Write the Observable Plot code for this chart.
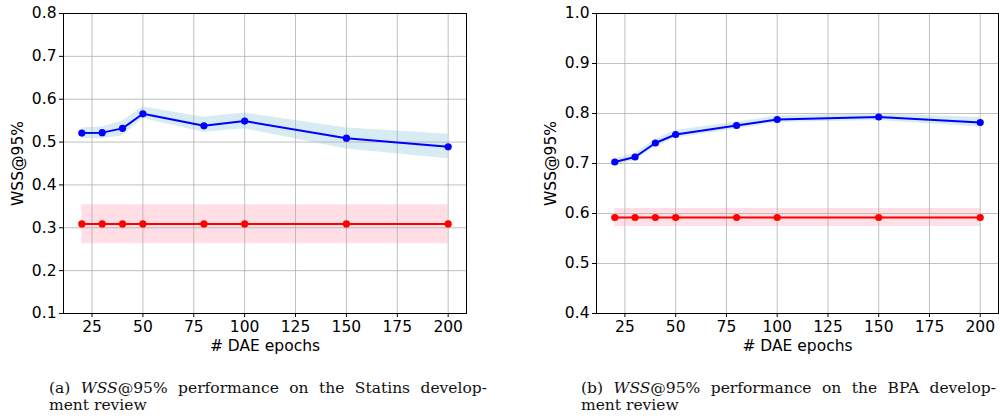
<!DOCTYPE html>
<html>
<head>
<meta charset="utf-8">
<script src="https://cdn.jsdelivr.net/npm/d3@7"></script>
<script src="https://cdn.jsdelivr.net/npm/@observablehq/plot@0.6"></script>
<style>
  html, body { margin: 0; padding: 0; background: #fff; }
  #page { position: relative; width: 1000px; height: 419px; overflow: hidden; }
  .panel { position: absolute; top: 0; }
  .cap { position: absolute; font-family: "DejaVu Serif", "Liberation Serif", serif; font-size: 15.5px; color: #111; line-height: 17px; }
  .cap .l1 { text-align: justify; text-align-last: justify; white-space: nowrap; }
  .cap i { font-style: italic; }
</style>
</head>
<body>
<div id="page">
  <div id="left" class="panel" style="left:0px"></div>
  <div id="right" class="panel" style="left:500px"></div>
  <div class="cap" style="left:49px; top:380px; width:438px;">
    <div class="l1">(a) <i>WSS</i>@95% performance on the Statins develop-</div>
    <div>ment review</div>
  </div>
  <div class="cap" style="left:581px; top:380px; width:415px;">
    <div class="l1">(b) <i>WSS</i>@95% performance on the BPA develop-</div>
    <div>ment review</div>
  </div>
</div>
<script>
// ---- data ----
const epochs = [20, 30, 40, 50, 80, 100, 150, 200];
const xTicks = [25, 50, 75, 100, 125, 150, 175, 200];

// (a) Statins
const statinsDae   = [0.521, 0.522, 0.532, 0.566, 0.538, 0.549, 0.509, 0.489];
const statinsDaeLo = [0.508, 0.508, 0.515, 0.555, 0.523, 0.531, 0.484, 0.461];
const statinsDaeHi = [0.533, 0.535, 0.549, 0.582, 0.558, 0.568, 0.533, 0.518];
const statinsBase   = [0.309, 0.309, 0.309, 0.309, 0.309, 0.309, 0.309, 0.309];
const statinsBaseLo = [0.263, 0.263, 0.263, 0.263, 0.263, 0.263, 0.263, 0.263];
const statinsBaseHi = [0.354, 0.354, 0.354, 0.354, 0.354, 0.354, 0.354, 0.354];
const statinsYTicks = [0.1, 0.2, 0.3, 0.4, 0.5, 0.6, 0.7, 0.8];

// (b) BPA
const bpaDae   = [0.703, 0.713, 0.741, 0.758, 0.776, 0.788, 0.793, 0.782];
const bpaDaeLo = [0.697, 0.706, 0.733, 0.751, 0.769, 0.782, 0.786, 0.773];
const bpaDaeHi = [0.709, 0.720, 0.748, 0.766, 0.783, 0.795, 0.800, 0.792];
const bpaBase   = [0.592, 0.592, 0.592, 0.592, 0.592, 0.592, 0.592, 0.592];
const bpaBaseLo = [0.574, 0.574, 0.574, 0.574, 0.574, 0.574, 0.574, 0.574];
const bpaBaseHi = [0.610, 0.610, 0.610, 0.610, 0.610, 0.610, 0.610, 0.610];
const bpaYTicks = [0.4, 0.5, 0.6, 0.7, 0.8, 0.9, 1.0];

function rows(mean, lo, hi) {
  return epochs.map((e, i) => ({x: e, y: mean[i], lo: lo[i], hi: hi[i]}));
}

function chart({dae, base, yTicks, width, marginLeft, marginRight}) {
  return Plot.plot({
    width, height: 360,
    marginLeft, marginRight, marginTop: 13, marginBottom: 47,
    style: {fontFamily: "DejaVu Sans, sans-serif", fontSize: "15.5px", color: "#000", background: "#fff"},
    x: {domain: [11, 209], ticks: xTicks},
    y: {domain: [yTicks[0], yTicks[yTicks.length - 1]], ticks: yTicks},
    marks: [
      Plot.areaY(dae,  {x: "x", y1: "lo", y2: "hi", fill: "#add8e6", fillOpacity: 0.5}),
      Plot.areaY(base, {x: "x", y1: "lo", y2: "hi", fill: "#ffc0cb", fillOpacity: 0.5}),
      Plot.gridX(xTicks, {stroke: "#b0b0b0", strokeOpacity: 0.8, strokeWidth: 1}),
      Plot.gridY(yTicks, {stroke: "#b0b0b0", strokeOpacity: 0.8, strokeWidth: 1}),
      Plot.line(dae,  {x: "x", y: "y", stroke: "#0000ff", strokeWidth: 2}),
      Plot.dot(dae,   {x: "x", y: "y", fill: "#0000ff", r: 3.6}),
      Plot.line(base, {x: "x", y: "y", stroke: "#ff0000", strokeWidth: 2}),
      Plot.dot(base,  {x: "x", y: "y", fill: "#ff0000", r: 3.6}),
      Plot.frame({stroke: "#000", strokeWidth: 1}),
      Plot.axisX(xTicks, {tickSize: 4, tickPadding: 3, fontSize: 15.5, label: "# DAE epochs", labelAnchor: "center", labelArrow: "none", labelOffset: 37}),
      Plot.axisY(yTicks, {tickSize: 4, tickPadding: 3, fontSize: 15.5, tickFormat: d => d.toFixed(1), label: "WSS@95%", labelAnchor: "center", labelArrow: "none", labelOffset: 52})
    ]
  });
}

document.getElementById("left").appendChild(chart({
  dae: rows(statinsDae, statinsDaeLo, statinsDaeHi),
  base: rows(statinsBase, statinsBaseLo, statinsBaseHi),
  yTicks: statinsYTicks, width: 480, marginLeft: 63, marginRight: 14
}));
document.getElementById("right").appendChild(chart({
  dae: rows(bpaDae, bpaDaeLo, bpaDaeHi),
  base: rows(bpaBase, bpaBaseLo, bpaBaseHi),
  yTicks: bpaYTicks, width: 500, marginLeft: 96, marginRight: 2
}));
</script>
</body>
</html>
